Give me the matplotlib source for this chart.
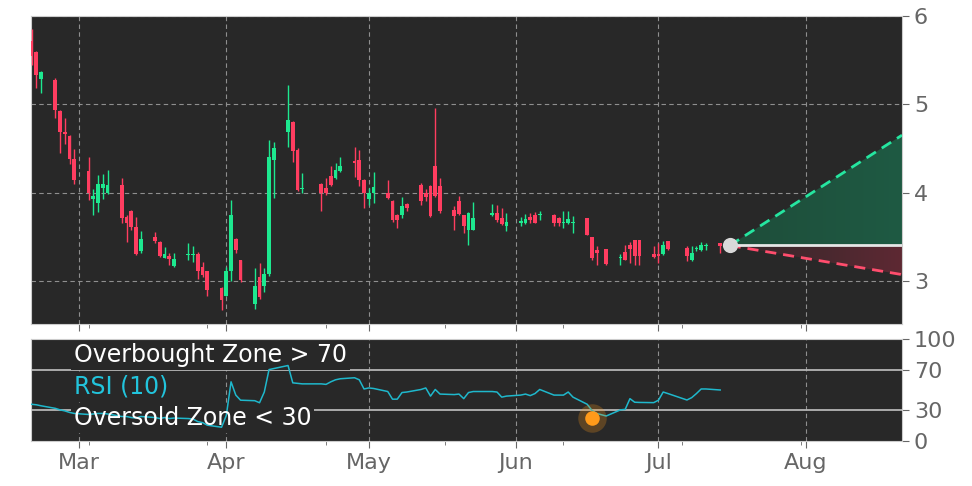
import numpy as np
import pandas as pd
import matplotlib
matplotlib.use("Agg")
import matplotlib.pyplot as plt
import matplotlib.dates as mdates
from matplotlib.patches import Polygon
from matplotlib.colors import LinearSegmentedColormap

# trading days shown (business days minus market holidays)
holidays = ["2025-04-18", "2025-05-26", "2025-06-19", "2025-07-04"]
dates = pd.bdate_range("2025-02-19", "2025-07-14")
dates = dates[~dates.isin(pd.to_datetime(holidays))]

opens = [5.72, 5.59, 5.29, 5.28, 4.92, 4.69, 4.64, 4.38,
         4.24, 3.93, 3.88, 4.05, 4.00, 4.08, 3.72, 3.79, 3.61, 3.34,
         3.50, 3.44, 3.26, 3.28, 3.17, 3.29, 3.29, 3.30, 3.16, 3.11,
         2.92, 2.83, 3.11, 3.47, 3.23, 2.74, 3.04, 2.94, 3.08, 4.37,
         4.69, 4.80, 4.48, 4.04, 4.10, 4.05, 4.19, 4.16, 4.24,
         4.36, 4.37, 4.14, 3.93, 3.99, 3.99, 3.90, 3.75, 3.74, 3.87,
         4.08, 3.99, 4.07, 4.30, 4.07, 3.80, 3.90, 3.74, 3.57, 3.58,
         3.75, 3.77, 3.71, 3.62, 3.66, 3.65, 3.72, 3.75, 3.75,
         3.75, 3.71, 3.65, 3.65, 3.65, 3.71, 3.50, 3.35, 3.36,
         3.26, 3.33, 3.40, 3.46, 3.46, 3.30, 3.30, 3.30, 3.45,
         3.37, 3.23, 3.355, 3.35, 3.39, 3.43]
closes = [5.55, 5.33, 5.37, 4.94, 4.69, 4.66, 4.38, 4.14,
          3.99, 3.96, 4.10, 4.10, 4.08, 3.71, 3.66, 3.61, 3.30, 3.47,
          3.45, 3.28, 3.30, 3.25, 3.25, 3.30, 3.30, 3.11, 3.06, 2.89,
          2.78, 3.11, 3.75, 3.35, 3.01, 2.94, 2.82, 3.08, 4.40, 4.51,
          4.82, 4.47, 4.03, 4.05, 4.00, 3.99, 4.08, 4.25, 4.30,
          4.34, 4.14, 3.99, 4.00, 4.06, 3.94, 3.69, 3.69, 3.85, 3.82,
          3.90, 3.95, 3.73, 3.96, 3.79, 3.73, 3.76, 3.62, 3.77, 3.71,
          3.77, 3.69, 3.64, 3.67, 3.68, 3.70, 3.69, 3.66, 3.76,
          3.65, 3.65, 3.67, 3.70, 3.655, 3.52, 3.26, 3.32, 3.19,
          3.27, 3.24, 3.36, 3.28, 3.28, 3.27, 3.28, 3.40, 3.36,
          3.28, 3.32, 3.365, 3.40, 3.395, 3.39]
highs = [5.85, 5.60, 5.38, 5.30, 4.93, 4.85, 4.65, 4.49,
         4.40, 4.04, 4.20, 4.21, 4.25, 4.16, 3.74, 3.80, 3.72, 3.56,
         3.55, 3.45, 3.38, 3.32, 3.32, 3.43, 3.39, 3.33, 3.21, 3.11,
         2.93, 3.16, 3.91, 3.48, 3.23, 3.15, 3.20, 3.15, 4.60, 4.57,
         5.22, 4.81, 4.50, 4.22, 4.11, 4.16, 4.30, 4.34, 4.40,
         4.52, 4.48, 4.15, 4.05, 4.23, 4.14, 3.91, 3.76, 3.95, 3.88,
         4.11, 4.04, 4.08, 4.96, 4.17, 3.85, 3.96, 3.75, 3.78, 3.89,
         3.87, 3.86, 3.82, 3.77, 3.72, 3.76, 3.77, 3.78, 3.79,
         3.76, 3.72, 3.79, 3.79, 3.73, 3.71, 3.50, 3.39, 3.36,
         3.30, 3.40, 3.44, 3.46, 3.46, 3.39, 3.43, 3.45, 3.45,
         3.39, 3.39, 3.39, 3.44, 3.43, 3.43]
lows = [5.45, 5.19, 5.13, 4.85, 4.45, 4.55, 4.32, 4.10,
        3.92, 3.74, 3.78, 3.93, 3.98, 3.66, 3.44, 3.58, 3.29, 3.32,
        3.43, 3.27, 3.26, 3.18, 3.16, 3.24, 3.21, 3.02, 3.04, 2.83,
        2.67, 2.83, 3.00, 3.31, 2.99, 2.68, 2.79, 2.87, 3.05, 3.94,
        4.52, 4.35, 4.02, 3.99, 3.79, 3.97, 4.07, 4.15, 4.23,
        4.18, 4.07, 3.82, 3.86, 3.88, 3.93, 3.67, 3.60, 3.71, 3.79,
        3.86, 3.90, 3.72, 3.95, 3.77, 3.57, 3.75, 3.54, 3.41, 3.57,
        3.73, 3.67, 3.63, 3.56, 3.62, 3.64, 3.65, 3.65, 3.69,
        3.62, 3.62, 3.60, 3.64, 3.54, 3.52, 3.24, 3.18, 3.18,
        3.18, 3.23, 3.20, 3.18, 3.18, 3.26, 3.20, 3.29, 3.35,
        3.22, 3.22, 3.34, 3.34, 3.35, 3.32]

rsi = [36, 35.5, 34.5, 32, 30.5, 29.5, 28, 27,
       26, 26.5, 27, 27, 26.5, 24, 24, 23, 22.5, 24,
       23, 22, 23, 22, 22.5, 22, 21.5, 19, 18, 15.5,
       13.5, 25, 58, 45, 40, 39.5, 37.5, 48, 70, 71,
       74, 57, 56.5, 56, 56, 55.5, 58, 60, 61,
       62, 60, 51, 52, 51.5, 48.5, 41, 41, 47.5, 48,
       50.5, 52, 44, 50.5, 46, 45.5, 46, 41.5, 47.5, 48.5,
       48.5, 48, 43, 44, 45, 46, 44.5, 46.5, 50.5,
       45, 45, 45, 48, 43, 36, 30, 27, 24.5,
       30.5, 31, 41.5, 38, 37.8, 37.6, 40, 48, 46.5,
       40.2, 42.5, 46.5, 51, 51, 50]

# oversold signal marker
signal_date = "2025-06-17 00:00"
signal_rsi = 22.5

# projection cone
cone_dates = ["2025-07-16 00:00", "2025-08-21 07:00"]
cone_mid = 3.40
cone_upper = [3.40, 4.65]
cone_lower = [3.40, 3.07]

xlim = ["2025-02-18 21:00", "2025-08-21 07:00"]

BG = "#282828"
RED = "#ff3d60"
GREEN = "#1de88f"
GRID = "#8f8f8f"
TICK = "#666666"

fig = plt.figure(figsize=(9.72, 4.86), dpi=100)
ax = fig.add_axes([0.0319, 0.3333, 0.8961, 0.6337])
ax2 = fig.add_axes([0.0319, 0.0926, 0.8961, 0.2099], sharex=ax)

x = mdates.date2num(dates)
o = np.array(opens)
c = np.array(closes)
up = c >= o
col = np.where(up, GREEN, RED)
body_lo = np.minimum(o, c)
body_h = np.maximum(np.abs(c - o), 0.012)

ax.vlines(x, lows, highs, colors=col, linewidth=1, zorder=3)
ax.bar(x, body_h, bottom=body_lo, width=0.8, color=col, linewidth=0, zorder=4)

# cone
cx = mdates.date2num(pd.to_datetime(cone_dates))
ax.plot(cx, cone_upper, color="#25e6a0", linestyle=(0, (4, 2.5)), linewidth=2, zorder=5)
ax.plot(cx, cone_lower, color="#ff4d6d", linestyle=(0, (4, 2.5)), linewidth=2, zorder=5)
ax.plot([cx[0], cx[1]], [cone_mid, cone_mid], color="#e6e6e6", linewidth=2, zorder=5)
ax.scatter([cx[0]], [cone_mid], s=120, color="#d9d9d9", zorder=6, linewidths=0)

grad = np.linspace(0, 1, 256).reshape(1, -1)
g_cmap = LinearSegmentedColormap.from_list("g", ["#1e4d3a", "#1f5a43"])
r_cmap = LinearSegmentedColormap.from_list("r", ["#30292a", "#5e2833"])
for vals, cmap in ((cone_upper, g_cmap), (cone_lower, r_cmap)):
    poly = Polygon([(cx[0], cone_mid), (cx[1], vals[1]), (cx[1], cone_mid)],
                   closed=True, facecolor="none", edgecolor="none")
    ax.add_patch(poly)
    im = ax.imshow(grad, cmap=cmap, aspect="auto", zorder=2,
                   extent=[cx[0], cx[1], min(vals[1], cone_mid), max(vals[1], cone_mid)])
    im.set_clip_path(poly)

ax.set_ylim(2.51, 6.0)
ax.set_yticks([3, 4, 5, 6])

# RSI panel
ax2.plot(x, rsi, color="#1fb8cc", linewidth=1.1, zorder=4)
ax2.axhline(70, color="#b5b5b5", linewidth=1.3, zorder=1)
ax2.axhline(30, color="#b5b5b5", linewidth=1.3, zorder=1)
sx = mdates.date2num(pd.Timestamp(signal_date))
ax2.scatter([sx], [signal_rsi], s=420, color="#ff9a1a", alpha=0.25, linewidths=0, zorder=6)
ax2.scatter([sx], [signal_rsi], s=110, color="#ff9a1a", linewidths=0, zorder=7)
ax2.set_ylim(0, 100)
ax2.set_yticks([0, 30, 70, 100])

# labels: background box under the rsi line, glyphs above it
labels = [("Overbought Zone > 70", 0.84, "white"),
          ("RSI (10)", 0.53, "#22c4dc"),
          ("Oversold Zone < 30", 0.225, "white")]
box = dict(facecolor=BG, edgecolor="none", pad=2)
for txt, ty, tc in labels:
    ax2.text(0.049, ty, txt, transform=ax2.transAxes, color=BG, alpha=1,
             fontsize=17, va="center", bbox=box, zorder=2)
    ax2.text(0.049, ty, txt, transform=ax2.transAxes, color=tc,
             fontsize=17, va="center", zorder=5)

ax.set_xlim(mdates.date2num(pd.to_datetime(xlim)))
minor = mdates.date2num(pd.date_range("2025-03-03", periods=7, freq="25D"))
for a in (ax, ax2):
    a.set_facecolor(BG)
    a.xaxis.set_major_locator(mdates.MonthLocator())
    a.xaxis.set_major_formatter(mdates.DateFormatter("%b"))
    a.xaxis.set_minor_locator(matplotlib.ticker.FixedLocator(minor))
    a.grid(True, axis="x", color=GRID, linestyle=(0, (4, 3)), linewidth=0.8)
    a.yaxis.tick_right()
    a.tick_params(axis="both", which="major", labelsize=16, colors=TICK, length=5)
    a.tick_params(axis="x", which="minor", length=3, color=TICK)
    a.set_axisbelow(True)
    for s in a.spines.values():
        s.set_color("#cccccc")
ax.grid(True, axis="y", color=GRID, linestyle=(0, (4, 3)), linewidth=0.8)
plt.setp(ax.get_xticklabels(), visible=False)

fig.savefig("out.png", dpi=100, facecolor="white")
